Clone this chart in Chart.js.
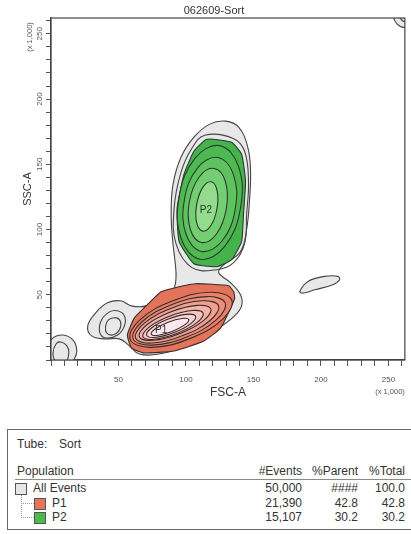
<!DOCTYPE html>
<html>
<head>
<meta charset="utf-8">
<title>062609-Sort</title>
<script src="https://cdn.jsdelivr.net/npm/chart.js@4.4.1/dist/chart.umd.min.js"></script>
<style>
  html, body { margin: 0; padding: 0; background: #fff; }
  body { position: relative; width: 411px; height: 534px; overflow: hidden;
         font-family: "Liberation Sans", Arial, sans-serif; color: #333; }
  #plotBox { position: absolute; left: 0; top: 0; width: 411px; height: 410px; }
  #panel { position: absolute; left: 7px; top: 429px; width: 420px; height: 101px;
           border: 1px solid #666; box-sizing: border-box; }
  .txt { position: absolute; font-size: 12px; line-height: 14px; white-space: pre; color: #333; }
  .sw { position: absolute; width: 12px; height: 12px; box-sizing: border-box; border: 1px solid #555; }
  .hline { position: absolute; left: 15px; width: 400px; height: 1px; background: #8a8a8a; }
  .vdot { position: absolute; width: 0; border-left: 1px dotted #999; }
  .hdot { position: absolute; height: 0; border-top: 1px dotted #999; }
</style>
</head>
<body>
<div id="plotBox"><canvas id="facs"></canvas></div>
<div id="panel"></div>
<div id="table"></div>
<script>
// axis values are FSC-A / SSC-A in thousands (x 1,000)
const axisMax = 262.144;
const xTickLabels = [50, 100, 150, 200, 250];
const yTickLabels = [50, 100, 150, 200, 250];

// contour outlines, [FSC, SSC]
const grayOuter = [[117.6,180.8],[129.4,183.1],[139.0,178.5],[145.6,163.8],[147.8,146.2],[147.1,123.1],[144.9,100.0],[140.4,83.1],[127.2,72.3],[124.3,66.9],[133.1,59.2],[140.4,50.0],[141.2,41.5],[136.0,33.8],[124.3,24.6],[105.9,13.1],[80.1,4.6],[65.4,4.6],[58.1,10.8],[50.7,16.2],[39.7,16.2],[30.1,18.5],[27.2,26.2],[33.1,36.2],[41.9,43.8],[51.5,45.4],[59.6,41.5],[70.6,41.5],[81.6,47.7],[90.4,53.8],[92.6,63.1],[91.9,75.4],[90.4,88.5],[89.0,111.5],[90.4,134.6],[96.3,155.4],[105.9,170.8]];
const grayP2Ring = [[114.0,172.3],[134.6,170.0],[143.4,160.0],[146.3,136.9],[144.9,111.5],[143.4,89.2],[135.3,74.6],[122.8,69.2],[104.4,70.8],[92.6,89.2],[91.2,116.2],[96.3,143.8],[104.4,162.3]];
const lobeRing1 = [[49.3,37.7],[54.4,33.8],[54.4,26.2],[49.3,19.2],[40.4,16.9],[36.0,21.5],[37.5,30.8],[43.4,36.9]];
const lobeRing2 = [[48.5,32.3],[51.5,29.2],[50.7,23.1],[45.6,19.2],[41.2,20.8],[40.4,25.4],[42.6,30.8]];
const debrisOuter = [[8.8,19.2],[16.2,15.4],[19.1,7.7],[17.6,1.5],[12.5,-4.6],[-0.7,-4.6],[-2.2,7.7],[0.7,16.2]];
const debrisInner = [[3.7,12.3],[7.4,13.8],[11.8,10.8],[13.2,5.4],[11.0,-1.5],[4.4,-2.3],[1.5,4.6]];
const rightBlob = [[184.3,52.5],[190.4,60.2],[202.7,64.1],[212.5,64.1],[213.8,61.5],[208.8,57.7],[195.4,53.8],[186.8,51.3]];
const cornerOuter = [[253.6,264.6],[256.4,257.5],[263.2,254.6],[270.0,257.5],[272.8,264.6],[270.0,271.7],[263.2,274.6],[256.4,271.7]];
const cornerInner = [[258.1,264.6],[259.6,260.8],[263.2,259.2],[266.8,260.8],[268.3,264.6],[266.8,268.4],[263.2,270.0],[259.6,268.4]];

const p1Gate = [[71.3,42.3],[81.6,52.3],[94.9,56.2],[107.4,58.5],[131.6,56.9],[135.3,52.3],[136.0,46.9],[125.7,24.6],[113.2,14.6],[91.2,6.9],[69.1,5.4],[59.6,9.2],[56.6,19.2],[61.8,32.3]];
const p1Ring1 = [[133.9,46.0],[127.1,31.2],[102.2,16.2],[73.9,9.7],[58.7,15.6],[65.5,30.4],[90.4,45.4],[118.7,51.9]];
const p1Ring2 = [[129.0,43.8],[122.6,30.9],[100.0,17.5],[74.4,11.4],[60.8,16.2],[67.2,29.1],[89.8,42.5],[115.4,48.6]];
const p1Ring3 = [[124.1,41.6],[118.1,30.5],[97.6,18.7],[74.7,13.0],[62.7,16.8],[68.7,27.9],[89.2,39.7],[112.1,45.4]];
const p1Ring4 = [[118.4,39.2],[113.0,30.2],[95.3,20.2],[75.6,15.1],[65.4,17.8],[70.8,26.8],[88.5,36.8],[108.2,41.9]];
const p1Ring5 = [[112.7,35.9],[108.1,28.6],[93.1,20.3],[76.5,15.9],[68.1,17.9],[72.7,25.2],[87.7,33.5],[104.3,37.9]];
const p1Ring6 = [[107.1,33.5],[103.3,27.7],[91.1,21.0],[77.7,17.4],[70.9,18.9],[74.7,24.7],[86.9,31.4],[100.3,35.0]];
const p1Ring7 = [[102.1,31.0],[99.0,26.9],[89.6,21.9],[79.4,19.0],[74.3,19.8],[77.4,23.9],[86.8,28.9],[97.0,31.8]];

const p2Gate = [[115.4,169.2],[133.8,166.9],[141.2,157.7],[144.1,136.9],[142.6,111.5],[141.2,90.8],[133.8,76.9],[122.8,71.5],[105.9,73.8],[94.9,90.8],[93.4,116.2],[98.5,142.3],[105.9,160.0]];
const p2Ring1 = [[124.9,164.3],[138.8,148.6],[140.4,116.6],[128.7,87.1],[110.4,77.2],[96.5,92.9],[94.9,124.9],[106.6,154.5]];
const p2Ring2 = [[123.6,155.2],[135.1,142.3],[136.5,115.8],[126.8,91.4],[111.7,83.2],[100.1,96.2],[98.8,122.6],[108.5,147.1]];
const p2Ring3 = [[120.9,146.8],[129.2,136.8],[129.9,116.0],[122.6,96.6],[111.5,90.1],[103.2,100.2],[102.4,120.9],[109.8,140.3]];
const p2Ring4 = [[118.6,136.6],[123.0,130.1],[123.0,116.3],[118.6,103.3],[112.4,98.8],[107.9,105.3],[107.9,119.1],[112.3,132.1]];

const gateNames = ['P1', 'P2'];
const gateLabelAt = [[81.6, 23.1], [114.7, 114.6]];

// statistics panel
const populations = ['All Events', 'P1', 'P2'];
const events = [50000, 21390, 15107];
const pctParent = ['####', '42.8', '30.2'];
const pctTotal = [100.0, 42.8, 30.2];

const GRAY = '#e8e8e8';
const INK = '#454545';
const layers = [
  { pts: grayOuter, fill: GRAY },
  { pts: grayP2Ring, fill: null },
  { pts: lobeRing1, fill: GRAY },
  { pts: lobeRing2, fill: GRAY },
  { pts: debrisOuter, fill: GRAY },
  { pts: debrisInner, fill: GRAY },
  { pts: rightBlob, fill: GRAY },
  { pts: cornerOuter, fill: GRAY },
  { pts: cornerInner, fill: GRAY },
  { pts: p1Gate, fill: '#e4735c', tension: 0.15, line: '#3a2b28' },
  { pts: p1Ring1, fill: '#e8806a', line: '#3a2b28' },
  { pts: p1Ring2, fill: '#eb8f7c', line: '#3a2b28' },
  { pts: p1Ring3, fill: '#efa192', line: '#3a2b28' },
  { pts: p1Ring4, fill: '#f2b4ac', line: '#3a2b28' },
  { pts: p1Ring5, fill: '#f5c5c3', line: '#3a2b28' },
  { pts: p1Ring6, fill: '#f8d5d8', line: '#3a2b28' },
  { pts: p1Ring7, fill: '#fce8ec', line: '#3a2b28' },
  { pts: p2Gate, fill: '#45b34b', tension: 0.15, line: '#2c3a2c' },
  { pts: p2Ring1, fill: '#4dba51', line: '#2c3a2c' },
  { pts: p2Ring2, fill: '#5ec35f', line: '#2c3a2c' },
  { pts: p2Ring3, fill: '#74ce72', line: '#2c3a2c' },
  { pts: p2Ring4, fill: '#93dc8e', line: '#2c3a2c' }
];

const datasets = layers.map((l, i) => ({
  data: l.pts.map(p => ({ x: p[0], y: p[1] })),
  fill: l.fill ? 'shape' : false,
  backgroundColor: l.fill || 'transparent',
  borderColor: l.line || INK,
  borderWidth: 1.1,
  borderJoinStyle: 'round',
  tension: l.tension !== undefined ? l.tension : 0.4,
  pointRadius: 0,
  order: layers.length - i
}));

// contours are closed curves: let the line element wrap around
const closedLoops = {
  id: 'closedLoops',
  afterDatasetsUpdate(chart) {
    chart.data.datasets.forEach((d, i) => {
      const meta = chart.getDatasetMeta(i);
      if (meta.dataset) { meta.dataset._loop = true; meta.dataset._fullLoop = true; }
    });
  }
};

const FONT = '"Liberation Sans", Arial, sans-serif';

const decorations = {
  id: 'decorations',
  afterDatasetsDraw(chart) {
    const { ctx, chartArea: a, scales: { x, y } } = chart;
    ctx.save();
    ctx.strokeStyle = '#444';
    ctx.lineWidth = 1.2;
    ctx.strokeRect(a.left, a.top, a.right - a.left, a.bottom - a.top);
    ctx.fillStyle = '#333';
    ctx.font = '10px ' + FONT;
    ctx.textAlign = 'center';
    ctx.textBaseline = 'middle';
    gateNames.forEach((n, i) => {
      ctx.fillText(n, x.getPixelForValue(gateLabelAt[i][0]), y.getPixelForValue(gateLabelAt[i][1]));
    });
    ctx.restore();
  },
  afterDraw(chart) {
    const { ctx } = chart;
    ctx.save();
    ctx.fillStyle = '#333';
    ctx.textAlign = 'center';
    ctx.textBaseline = 'middle';
    ctx.font = '11px ' + FONT;
    ctx.fillText('062609-Sort', 214, 11);
    ctx.fillStyle = '#555';
    ctx.font = '7.5px ' + FONT;
    ctx.fillText('(x 1,000)', 390, 392);
    ctx.translate(30, 37);
    ctx.rotate(-Math.PI / 2);
    ctx.fillText('(x 1,000)', 0, 0);
    ctx.restore();
  }
};

new Chart(document.getElementById('facs'), {
  type: 'line',
  data: { datasets },
  options: {
    responsive: true,
    maintainAspectRatio: false,
    animation: false,
    events: [],
    layout: { padding: { top: 18, right: 3, left: 0, bottom: 0 } },
    elements: { line: { capBezierPoints: false }, point: { radius: 0 } },
    plugins: { legend: { display: false }, tooltip: { enabled: false }, title: { display: false } },
    scales: {
      x: {
        type: 'linear', min: 0, max: axisMax,
        afterFit: s => { s.height = 50; },
        ticks: {
          stepSize: 10, includeBounds: false, autoSkip: false, maxRotation: 0,
          padding: 9, color: '#555', font: { size: 8, family: FONT },
          callback: v => xTickLabels.includes(v) ? String(v) : ''
        },
        grid: { drawOnChartArea: false, drawTicks: true, tickLength: 6, color: '#555' },
        border: { display: true, color: '#444', width: 1.2 },
        title: { display: true, text: 'FSC-A', color: '#333', font: { size: 12, family: FONT }, padding: { top: 0, bottom: 10 } }
      },
      y: {
        type: 'linear', min: 0, max: axisMax,
        afterFit: s => { s.width = 51; },
        ticks: {
          stepSize: 10, includeBounds: false, autoSkip: false,
          minRotation: 90, maxRotation: 90, crossAlign: 'center',
          padding: 0, color: '#555', font: { size: 8, family: FONT },
          callback: v => yTickLabels.includes(v) ? String(v) : ''
        },
        grid: { drawOnChartArea: false, drawTicks: true, tickLength: 5, color: '#555' },
        border: { display: true, color: '#444', width: 1.2 },
        title: { display: true, text: 'SSC-A', color: '#333', font: { size: 11, family: FONT }, padding: { top: 21, bottom: 0 } }
      }
    }
  },
  plugins: [closedLoops, decorations]
});

// statistics table
const tbl = document.getElementById('table');
function put(cls, text, css) {
  const el = document.createElement('div');
  el.className = cls;
  if (text !== null) el.textContent = text;
  Object.assign(el.style, css);
  tbl.appendChild(el);
  return el;
}
const colRight = ['109px', '53px', '6px'];
put('txt', 'Tube:', { left: '17px', top: '437px' });
put('txt', 'Sort', { left: '59px', top: '437px' });
put('txt', 'Population', { left: '17px', top: '464px' });
['#Events', '%Parent', '%Total'].forEach((h, i) => put('txt', h, { right: colRight[i], top: '464px' }));
put('hline', null, { top: '479px' });

const rowTop = [481, 496, 510];
const swatchColor = ['#e6e6e6', '#e8735c', '#4cb84e'];
populations.forEach((name, i) => {
  const indent = i === 0 ? 0 : 19;
  put('sw', null, { left: (15 + indent) + 'px', top: (rowTop[i] + 2) + 'px', background: swatchColor[i] });
  put('txt', name, { left: (33 + indent) + 'px', top: rowTop[i] + 'px' });
  put('txt', events[i].toLocaleString('en-US'), { right: colRight[0], top: rowTop[i] + 'px' });
  put('txt', pctParent[i], { right: colRight[1], top: rowTop[i] + 'px' });
  put('txt', pctTotal[i].toFixed(1), { right: colRight[2], top: rowTop[i] + 'px' });
});
put('vdot', null, { left: '21px', top: '495px', height: '23px' });
put('hdot', null, { left: '21px', top: '503px', width: '13px' });
put('hdot', null, { left: '21px', top: '517px', width: '13px' });
</script>
</body>
</html>
